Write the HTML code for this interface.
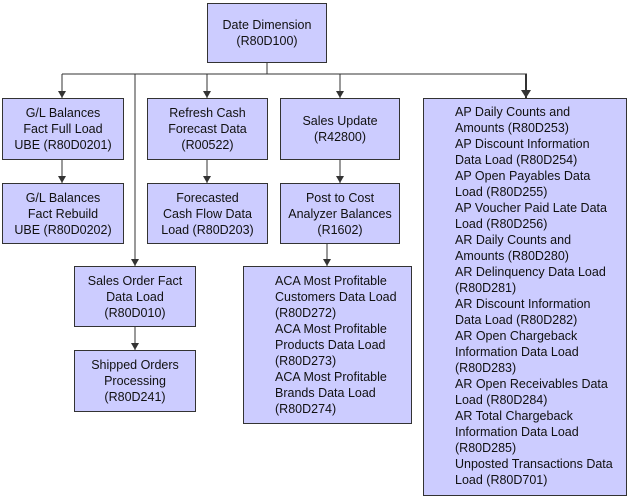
<!DOCTYPE html>
<html><head><style>
body{margin:0;width:632px;height:497px;background:#fff;position:relative;font-family:"Liberation Sans",Arial,sans-serif;font-size:12.5px;color:#111;overflow:hidden}
.b{position:absolute;background:#ccccff;border:1px solid #333;box-sizing:border-box;display:flex;align-items:center;justify-content:center;text-align:center;line-height:16px}
svg{position:absolute;left:0;top:0}
</style></head><body>
<svg width="632" height="497">
<g stroke="#333" stroke-width="1" fill="none">
<line x1="267" y1="62" x2="267" y2="74"/>
<line x1="62" y1="74" x2="527" y2="74"/>
<line x1="62" y1="74" x2="62" y2="98"/>
<line x1="135" y1="74" x2="135" y2="266"/>
<line x1="207" y1="74" x2="207" y2="98"/>
<line x1="340" y1="74" x2="340" y2="98"/>
<line x1="526" y1="74" x2="526" y2="98" stroke-width="2"/>
<line x1="62" y1="159" x2="62" y2="183"/>
<line x1="207" y1="159" x2="207" y2="183"/>
<line x1="340" y1="159" x2="340" y2="183"/>
<line x1="327" y1="243" x2="327" y2="266"/>
<line x1="135" y1="326" x2="135" y2="350"/>
</g>
<g fill="#333">
<polygon points="58,91 66,91 62,98"/>
<polygon points="203,91 211,91 207,98"/>
<polygon points="336,91 344,91 340,98"/>
<polygon points="521,90 531,90 526,98"/>
<polygon points="58,176 66,176 62,183"/>
<polygon points="203,176 211,176 207,183"/>
<polygon points="336,176 344,176 340,183"/>
<polygon points="323,259 331,259 327,266"/>
<polygon points="131,259 139,259 135,266"/>
<polygon points="131,343 139,343 135,350"/>
</g>
</svg>
<div class="b" style="left:207px;top:3px;width:120px;height:60px">Date Dimension<br>(R80D100)</div>
<div class="b" style="left:2px;top:98px;width:122px;height:62px">G/L Balances<br>Fact Full Load<br>UBE (R80D0201)</div>
<div class="b" style="left:2px;top:183px;width:122px;height:61px">G/L Balances<br>Fact Rebuild<br>UBE (R80D0202)</div>
<div class="b" style="left:147px;top:98px;width:121px;height:62px">Refresh Cash<br>Forecast Data<br>(R00522)</div>
<div class="b" style="left:147px;top:183px;width:121px;height:61px">Forecasted<br>Cash Flow Data<br>Load (R80D203)</div>
<div class="b" style="left:280px;top:98px;width:120px;height:62px">Sales Update<br>(R42800)</div>
<div class="b" style="left:280px;top:183px;width:120px;height:61px">Post to Cost<br>Analyzer Balances<br>(R1602)</div>
<div class="b" style="left:74px;top:266px;width:122px;height:61px">Sales Order Fact<br>Data Load<br>(R80D010)</div>
<div class="b" style="left:74px;top:350px;width:122px;height:62px">Shipped Orders<br>Processing<br>(R80D241)</div>
<div class="b" style="left:243px;top:266px;width:169px;height:158px;justify-content:flex-start;padding-left:31px;text-align:left">ACA Most Profitable<br>Customers Data Load<br>(R80D272)<br>ACA Most Profitable<br>Products Data Load<br>(R80D273)<br>ACA Most Profitable<br>Brands Data Load<br>(R80D274)</div>
<div class="b" style="left:423px;top:98px;width:204px;height:398px;justify-content:flex-start;padding-left:31px;text-align:left;align-items:flex-start;padding-top:5px">AP Daily Counts and<br>Amounts (R80D253)<br>AP Discount Information<br>Data Load (R80D254)<br>AP Open Payables Data<br>Load (R80D255)<br>AP Voucher Paid Late Data<br>Load (R80D256)<br>AR Daily Counts and<br>Amounts (R80D280)<br>AR Delinquency Data Load<br>(R80D281)<br>AR Discount Information<br>Data Load (R80D282)<br>AR Open Chargeback<br>Information Data Load<br>(R80D283)<br>AR Open Receivables Data<br>Load (R80D284)<br>AR Total Chargeback<br>Information Data Load<br>(R80D285)<br>Unposted Transactions Data<br>Load (R80D701)</div>
</body></html>
